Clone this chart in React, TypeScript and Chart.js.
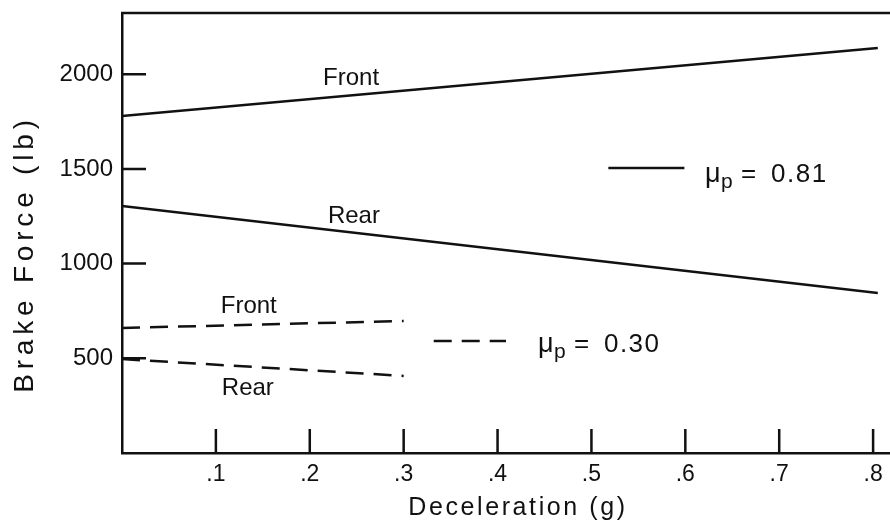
import React, { useEffect, useRef } from 'react';
import { Chart, registerables } from 'chart.js';

Chart.register(...registerables);

// ---- data ----
const solidDecel = [0, 0.805];
const solidFront = [1779, 2138];
const solidRear = [1304, 845];

const dashedDecel = [0, 0.3];
const dashedFront = [660, 697];
const dashedRear = [496, 407];

const xTickValues = [0.1, 0.2, 0.3, 0.4, 0.5, 0.6, 0.7, 0.8];
const xTickLabels = ['.1', '.2', '.3', '.4', '.5', '.6', '.7', '.8'];
const yTickValues = [500, 1000, 1500, 2000];
const yTickLabels = ['500', '1000', '1500', '2000'];

const X_MIN = 0;
const X_MAX = 0.818;
const Y_MIN = 0;
const Y_MAX = 2323;

const xTitle = 'Deceleration (g)';
const yTitle = 'Brake Force (lb)';

// curve labels (anchored in data coordinates)
const curveLabelText = ['Front', 'Rear', 'Front', 'Rear'];
const curveLabelX = [0.244, 0.247, 0.135, 0.134];
const curveLabelY = [1943, 1214, 739, 306];

// key entries
const keyValues = ['0.81', '0.30'];
const keyLineX0 = [0.518, 0.332];
const keyLineX1 = [0.599, 0.409];
const keyLineY = [1505, 591];
const keyTextX = [0.621, 0.443];
const keyTextY = [1431, 533];
const keyDashed = [false, true];

const INK = '#111111';
const FONT = '"Liberation Sans", Arial, Helvetica, sans-serif';
const DASH = [18, 10];

const decorPlugin = {
  id: 'decor',
  afterDraw(chart: any) {
    const { ctx, chartArea: a, scales } = chart;
    const xs = scales.x;
    const ys = scales.y;
    ctx.save();
    ctx.strokeStyle = INK;
    ctx.fillStyle = INK;

    // top frame line
    ctx.lineWidth = 2.5;
    ctx.beginPath();
    ctx.moveTo(a.left - 1, a.top);
    ctx.lineTo(a.right, a.top);
    ctx.stroke();

    // inward tick marks
    ctx.beginPath();
    xTickValues.forEach((v) => {
      const px = xs.getPixelForValue(v);
      ctx.moveTo(px, a.bottom);
      ctx.lineTo(px, a.bottom - 24);
    });
    yTickValues.forEach((v) => {
      const py = ys.getPixelForValue(v);
      ctx.moveTo(a.left, py);
      ctx.lineTo(a.left + 24, py);
    });
    ctx.stroke();

    // curve labels
    ctx.font = `24px ${FONT}`;
    ctx.textAlign = 'center';
    ctx.textBaseline = 'alphabetic';
    curveLabelText.forEach((t, i) => {
      ctx.fillText(t, xs.getPixelForValue(curveLabelX[i]), ys.getPixelForValue(curveLabelY[i]));
    });

    // key
    keyValues.forEach((val, i) => {
      ctx.lineWidth = 2.5;
      ctx.setLineDash(keyDashed[i] ? DASH : []);
      const ly = ys.getPixelForValue(keyLineY[i]);
      ctx.beginPath();
      ctx.moveTo(xs.getPixelForValue(keyLineX0[i]), ly);
      ctx.lineTo(xs.getPixelForValue(keyLineX1[i]), ly);
      ctx.stroke();
      ctx.setLineDash([]);

      const tx = xs.getPixelForValue(keyTextX[i]);
      const ty = ys.getPixelForValue(keyTextY[i]);
      ctx.textAlign = 'left';
      ctx.font = `27px ${FONT}`;
      ctx.fillText('\u03bc', tx, ty);
      ctx.font = `21px ${FONT}`;
      ctx.fillText('p', tx + 16, ty + 6);
      ctx.font = `26px ${FONT}`;
      ctx.fillText('=', tx + 36, ty);
      (ctx as any).letterSpacing = '1.5px';
      ctx.fillText(val, tx + 66, ty);
      (ctx as any).letterSpacing = '0px';
    });

    // axis titles
    ctx.textAlign = 'center';
    ctx.font = `25px ${FONT}`;
    (ctx as any).letterSpacing = '2.6px';
    ctx.fillText(xTitle, (a.left + a.right) / 2 + 12, a.bottom + 62);

    ctx.translate(33, (a.top + a.bottom) / 2 + 21);
    ctx.rotate(-Math.PI / 2);
    ctx.font = `28px ${FONT}`;
    (ctx as any).letterSpacing = '4.8px';
    ctx.fillText(yTitle, 0, 0);
    (ctx as any).letterSpacing = '0px';
    ctx.restore();
  },
};

export default function App() {
  const ref = useRef<HTMLCanvasElement | null>(null);

  useEffect(() => {
    document.body.style.margin = '0';
    const canvas = ref.current;
    if (!canvas) return;
    const toPts = (xs: number[], ys: number[]) => xs.map((x, i) => ({ x, y: ys[i] }));
    const lineStyle = (dashed: boolean) => ({
      borderColor: INK,
      borderWidth: 2.5,
      borderDash: dashed ? DASH : [],
      pointRadius: 0,
      fill: false,
      tension: 0,
    });

    const chart = new Chart(canvas, {
      type: 'line',
      data: {
        datasets: [
          { label: 'Front μp=0.81', data: toPts(solidDecel, solidFront), ...lineStyle(false) },
          { label: 'Rear μp=0.81', data: toPts(solidDecel, solidRear), ...lineStyle(false) },
          { label: 'Front μp=0.30', data: toPts(dashedDecel, dashedFront), ...lineStyle(true) },
          { label: 'Rear μp=0.30', data: toPts(dashedDecel, dashedRear), ...lineStyle(true) },
        ],
      },
      options: {
        animation: false,
        responsive: false,
        maintainAspectRatio: false,
        layout: { padding: { top: 13, right: 0, left: 0, bottom: 0 } },
        plugins: { legend: { display: false }, tooltip: { enabled: false } },
        scales: {
          x: {
            type: 'linear',
            min: X_MIN,
            max: X_MAX,
            grid: { display: false, drawTicks: false },
            border: { display: true, color: INK, width: 2.5 },
            afterBuildTicks: (scale: any) => {
              scale.ticks = xTickValues.map((v) => ({ value: v }));
            },
            afterFit: (scale: any) => {
              scale.height = 71;
              scale.paddingLeft = 0;
              scale.paddingRight = 0;
            },
            ticks: {
              autoSkip: false,
              maxRotation: 0,
              padding: 8,
              color: INK,
              font: { family: FONT, size: 23 },
              callback: (_v: any, i: number) => xTickLabels[i],
            },
          },
          y: {
            type: 'linear',
            min: Y_MIN,
            max: Y_MAX,
            grid: { display: false, drawTicks: false },
            border: { display: true, color: INK, width: 2.5 },
            afterBuildTicks: (scale: any) => {
              scale.ticks = yTickValues.map((v) => ({ value: v }));
            },
            afterFit: (scale: any) => {
              scale.width = 122;
              scale.paddingTop = 0;
              scale.paddingBottom = 0;
            },
            ticks: {
              autoSkip: false,
              padding: 9,
              color: INK,
              font: { family: FONT, size: 24 },
              callback: (_v: any, i: number) => yTickLabels[i],
            },
          },
        },
      },
      plugins: [decorPlugin],
    } as any);

    return () => chart.destroy();
  }, []);

  return (
    <canvas
      ref={ref}
      width={890}
      height={524}
      style={{ display: 'block', width: 890, height: 524 }}
    />
  );
}
